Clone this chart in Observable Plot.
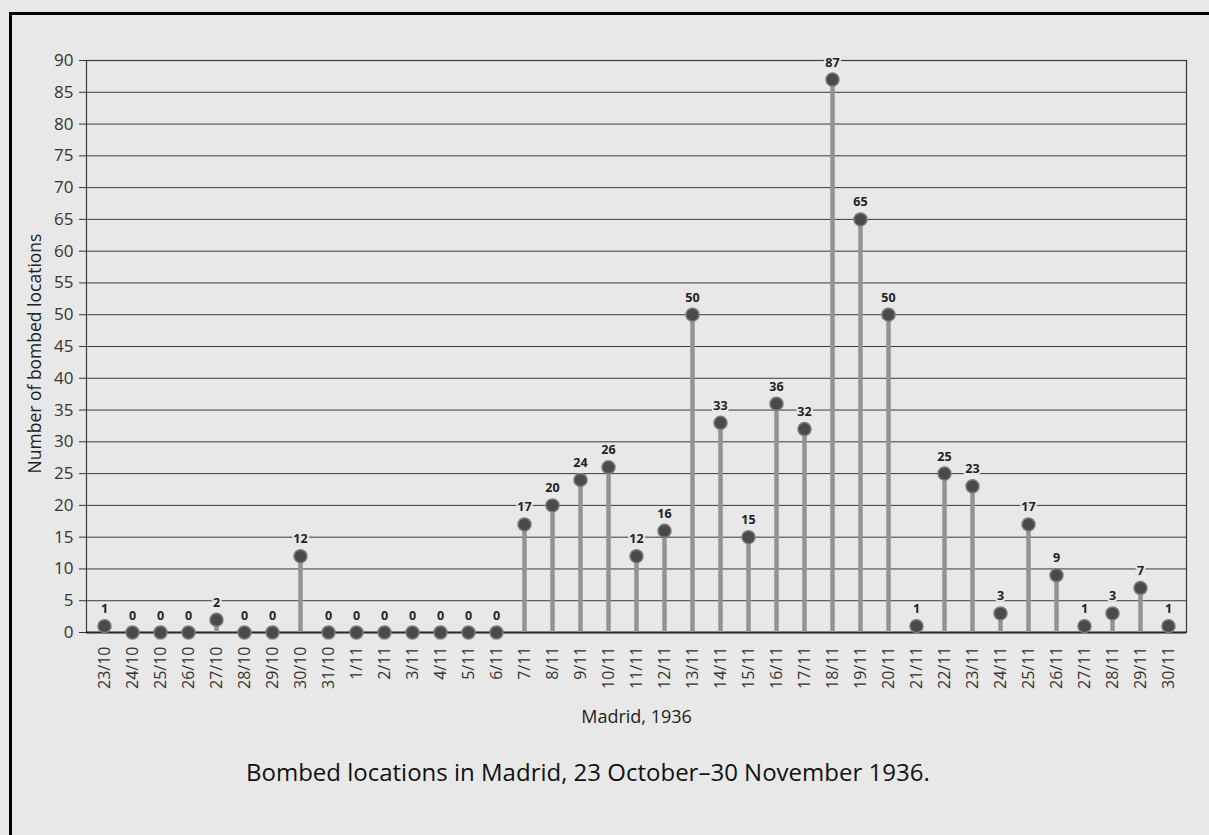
<!DOCTYPE html>
<html>
<head>
<meta charset="utf-8">
<script src="https://cdn.jsdelivr.net/npm/d3@7"></script>
<script src="https://cdn.jsdelivr.net/npm/@observablehq/plot@0.6"></script>
<style>
  html, body { margin: 0; padding: 0; background: #e8e8e8; overflow: hidden; }
  body { width: 1209px; height: 835px; position: relative; font-family: "Open Sans", "Noto Sans", sans-serif; }
  #border { position: absolute; left: 9px; top: 12px; width: 1400px; height: 1000px; border-top: 3px solid #000; border-left: 3px solid #000; pointer-events: none; }
  #chart { position: absolute; left: 0; top: 0; }
  #caption { position: absolute; left: 246px; top: 755px; font-size: 24px; color: #111; white-space: nowrap; }
</style>
</head>
<body>
<div id="chart"></div>
<div id="caption">Bombed locations in Madrid, 23 October–30 November 1936.</div>
<div id="border"></div>
<script>
const dates = ["23/10","24/10","25/10","26/10","27/10","28/10","29/10","30/10","31/10",
  "1/11","2/11","3/11","4/11","5/11","6/11","7/11","8/11","9/11","10/11","11/11","12/11",
  "13/11","14/11","15/11","16/11","17/11","18/11","19/11","20/11","21/11","22/11","23/11",
  "24/11","25/11","26/11","27/11","28/11","29/11","30/11"];
const counts = [1,0,0,0,2,0,0,12,0,
  0,0,0,0,0,0,17,20,24,26,12,16,
  50,33,15,36,32,87,65,50,1,25,23,
  3,17,9,1,3,7,1];
const yTicks = d3.range(0, 95, 5);
const gridTicks = d3.range(5, 95, 5);
const yTitle = "Number of bombed locations";
const xTitle = "Madrid, 1936";

const data = dates.map((d, i) => ({date: d, value: counts[i]}));

const chart = Plot.plot({
  width: 1209,
  height: 745,
  marginTop: 60,
  marginLeft: 86,
  marginRight: 23,
  marginBottom: 113,
  style: {background: "transparent", fontFamily: "'Open Sans', 'Noto Sans', sans-serif", color: "#333"},
  x: {type: "point", domain: dates, padding: 0.25},
  y: {domain: [0, 90]},
  marks: [
    Plot.ruleY(gridTicks, {stroke: "#3a3a3a", strokeWidth: 1}),
    Plot.frame({stroke: "#3a3a3a", strokeWidth: 1.2}),
    Plot.ruleY([0], {stroke: "#2a2a2a", strokeWidth: 1.8}),
    Plot.axisY({ticks: yTicks, tickSize: 7, tickPadding: 6, fontSize: 17, label: null, stroke: "#333", fill: "#333"}),
    Plot.axisX({tickSize: 0, tickPadding: 14, tickRotate: -90, fontSize: 16, label: null, fill: "#333"}),
    Plot.ruleX(data, {x: "date", y1: 0, y2: "value", stroke: "#939393", strokeWidth: 4.5}),
    Plot.dot(data, {x: "date", y: "value", r: 6.5, fill: "#4a4a4a", stroke: "#7a7a7a", strokeWidth: 1.5}),
    Plot.text(data, {x: "date", y: "value", text: d => String(d.value), dy: -17, fontSize: 12.5, fontWeight: "bold", fill: "#222", stroke: "#e8e8e8", strokeWidth: 4}),
    Plot.text([xTitle], {frameAnchor: "bottom", dy: 90, fontSize: 18, fill: "#222"}),
    Plot.text([yTitle], {frameAnchor: "left", textAnchor: "middle", rotate: -90, dx: -51, dy: 7, fontSize: 17.5, fill: "#222"})
  ]
});
document.getElementById("chart").appendChild(chart);
</script>
</body>
</html>
